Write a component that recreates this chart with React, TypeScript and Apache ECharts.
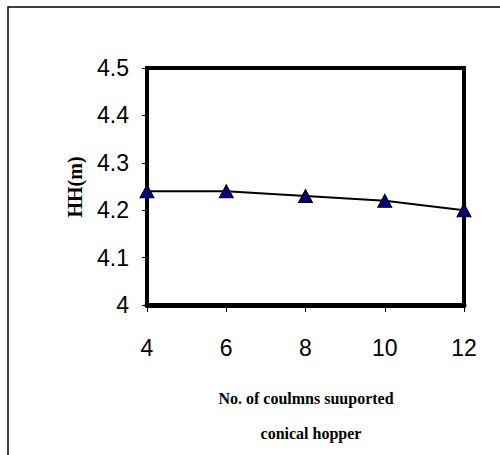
import React, { useEffect, useRef } from "react";
import * as echarts from "echarts";

const categories = ["4", "6", "8", "10", "12"];
const hhValues = [4.24, 4.24, 4.23, 4.22, 4.2];
const yTicks = { min: 4, max: 4.5, interval: 0.1 };
const yAxisTitle = "HH(m)";
const xAxisTitleLines = ["No. of coulmns suuported", "conical hopper"];

const narrow = '"Liberation Sans Narrow", "Arial Narrow", "Liberation Sans", Arial, sans-serif';
const serif = '"Liberation Serif", "Times New Roman", serif';

export default function App() {
  const ref = useRef<HTMLDivElement>(null);
  useEffect(() => {
    if (!ref.current) return;
    const chart = echarts.init(ref.current, null, { renderer: "svg" });
    chart.setOption({
      animation: false,
      backgroundColor: "#ffffff",
      grid: {
        left: 147,
        right: 36,
        top: 68,
        bottom: 150,
        show: true,
        borderColor: "#000",
        borderWidth: 4,
        backgroundColor: "transparent",
      },
      graphic: [
        {
          type: "rect",
          shape: { x: 8, y: 7, width: 520, height: 480 },
          style: { fill: "none", stroke: "#000", lineWidth: 1.5 },
          silent: true,
          z: 0,
        },
        {
          type: "text",
          x: 75,
          y: 187,
          rotation: Math.PI / 2,
          style: {
            text: yAxisTitle,
            font: `bold 20px ${serif}`,
            fill: "#000",
            textAlign: "center",
            textVerticalAlign: "middle",
          },
        },
        {
          type: "text",
          x: 306,
          y: 398,
          style: {
            text: xAxisTitleLines[0],
            font: `bold 16px ${serif}`,
            fill: "#000",
            textAlign: "center",
            textVerticalAlign: "middle",
          },
        },
        {
          type: "text",
          x: 311,
          y: 433,
          style: {
            text: xAxisTitleLines[1],
            font: `bold 16px ${serif}`,
            fill: "#000",
            textAlign: "center",
            textVerticalAlign: "middle",
          },
        },
      ],
      xAxis: {
        type: "category",
        data: categories,
        boundaryGap: false,
        axisLine: { lineStyle: { color: "#000", width: 5 } },
        axisTick: { show: true, inside: false, length: 7, lineStyle: { color: "#000", width: 1 } },
        axisLabel: { color: "#000", fontSize: 23, fontFamily: narrow, margin: 31 },
        splitLine: { show: false },
      },
      yAxis: {
        type: "value",
        min: yTicks.min,
        max: yTicks.max,
        interval: yTicks.interval,
        axisLine: { show: true, lineStyle: { color: "#000", width: 4 } },
        axisTick: { show: true, inside: false, length: 5, lineStyle: { color: "#000", width: 1 } },
        axisLabel: {
          color: "#000",
          fontSize: 23,
          fontFamily: narrow,
          margin: 18,
          formatter: (v: number) => String(Math.round(v * 10) / 10),
        },
        splitLine: { show: false },
      },
      series: [
        {
          type: "line",
          data: hhValues,
          symbol: "triangle",
          symbolSize: [14, 13],
          itemStyle: { color: "#000080", borderColor: "#000", borderWidth: 1 },
          lineStyle: { color: "#000", width: 2 },
          clip: false,
        },
      ],
    });
    return () => chart.dispose();
  }, []);
  return (
    <div
      ref={ref}
      style={{ position: "absolute", left: 0, top: 0, width: 500, height: 455 }}
    />
  );
}
